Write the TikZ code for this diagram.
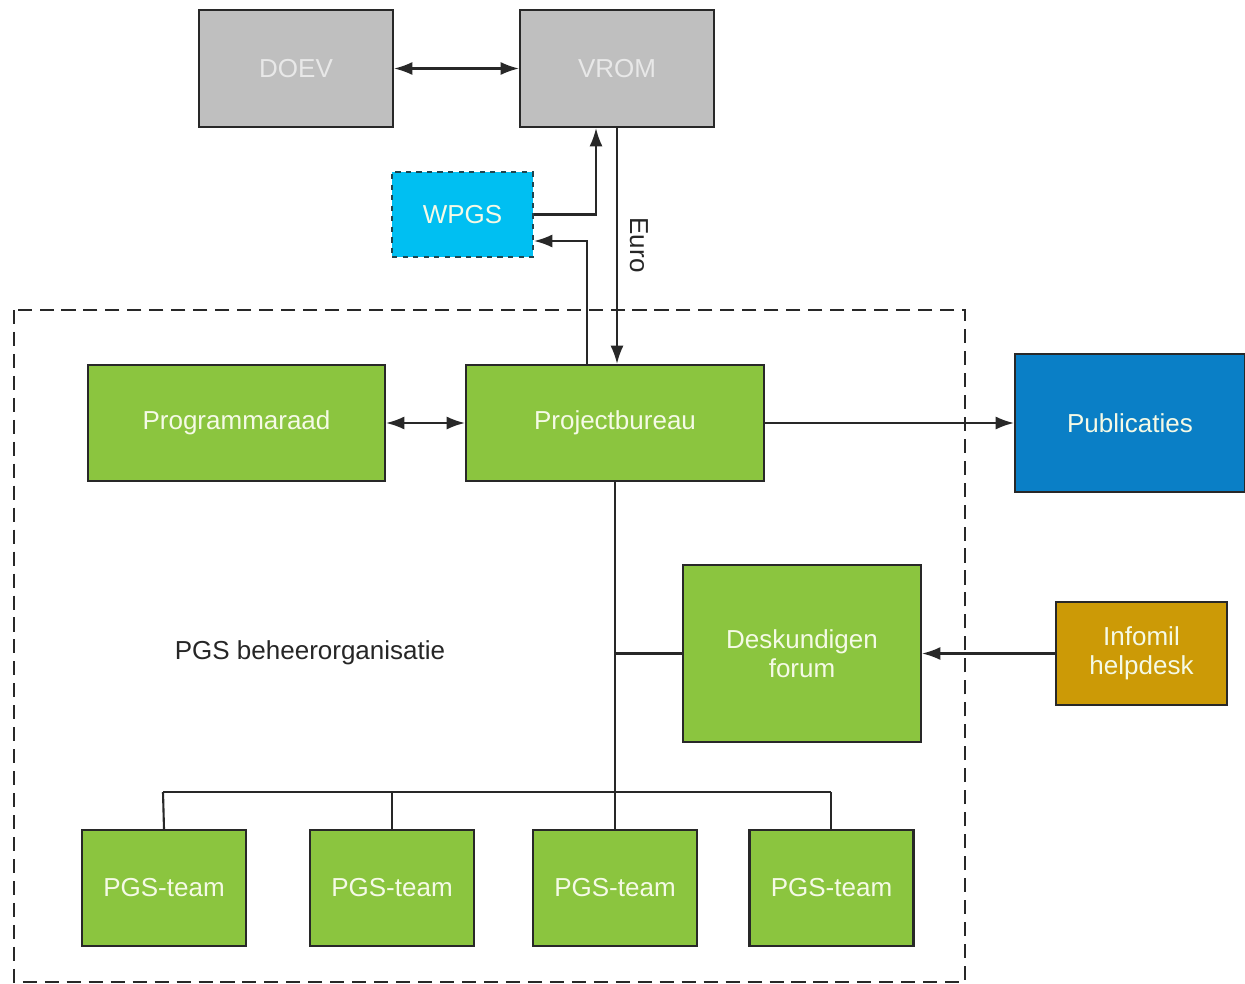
\documentclass[tikz,border=0pt]{standalone}
\usepackage{fontspec}
\setmainfont{Liberation Sans}
\usetikzlibrary{arrows.meta,calc}
\definecolor{boxgray}{RGB}{191,191,191}
\definecolor{boxgreen}{RGB}{139,197,63}
\definecolor{boxblue}{RGB}{10,127,198}
\definecolor{boxcyan}{RGB}{0,191,242}
\definecolor{boxgold}{RGB}{204,154,6}
\definecolor{linecol}{RGB}{40,40,40}
\definecolor{txtgray}{RGB}{232,232,232}
\definecolor{txtlight}{RGB}{245,250,230}
\begin{document}
\begin{tikzpicture}[x=0.02cm,y=-0.02cm,
  box/.style={draw=linecol, line width=1.2pt, inner sep=0pt, align=center,
    font=\fontsize{14.8}{17}\selectfont, text=txtlight},
  graybox/.style={box, fill=boxgray, text=txtgray, minimum width=3.88cm, minimum height=2.34cm},
  greenbox/.style={box, fill=boxgreen},
  teambox/.style={greenbox, minimum width=3.28cm, minimum height=2.32cm},
  conn/.style={draw=linecol, line width=1.2pt},
  arr/.style={conn, -{Latex[length=10.5pt,width=7.5pt]}},
  darr/.style={conn, {Latex[length=10.5pt,width=7.5pt]}-{Latex[length=10.5pt,width=7.5pt]}}
]
\useasboundingbox (0,0) rectangle (1245,984);
\fill[white] (0,0) rectangle (1245,984);

% container
\draw[draw=linecol, line width=1.1pt, dash pattern=on 8pt off 4.5pt] (14,310) rectangle (965,982);

\node[graybox] (doev) at (296,68.5) {DOEV};
\node[graybox] (vrom) at (617,68.5) {VROM};
\node[box, fill=boxcyan, dashed, draw=linecol!80!boxcyan, minimum width=2.82cm, minimum height=1.70cm] (wpgs) at (462.5,214.5) {WPGS};

\node[greenbox, minimum width=5.94cm, minimum height=2.32cm] (prog) at (236.5,423) {Programmaraad};
\node[greenbox, minimum width=5.96cm, minimum height=2.32cm] (pb) at (615,423) {Projectbureau};
\node[box, fill=boxblue, minimum width=4.6cm, minimum height=2.76cm] (pub) at (1130,423) {Publicaties};
\node[greenbox, minimum width=4.76cm, minimum height=3.54cm, font=\fontsize{14.8}{16.5}\selectfont] (df) at (802,653.5) {Deskundigen\\forum};
\node[box, fill=boxgold, minimum width=3.42cm, minimum height=2.06cm, font=\fontsize{14.8}{16.5}\selectfont] (info) at (1141.5,653.5) {Infomil\\helpdesk};

\node[teambox] (t1) at (164,888) {PGS-team};
\node[teambox] (t2) at (392,888) {PGS-team};
\node[teambox] (t3) at (615,888) {PGS-team};
\node[teambox] (t4) at (831.5,888) {PGS-team};

\node[font=\fontsize{14.8}{17}\selectfont, text=black!85] (org) at (310,653) {PGS beheerorganisatie};

% connectors
\draw[darr] (doev.east) -- (vrom.west);
\draw[arr] (wpgs.east) -| ([xshift=-0.42cm]vrom.south);
\draw[arr] ([xshift=-0.56cm]pb.north) |- ([yshift=-0.53cm]wpgs.east);
\draw[arr] (vrom.south) -- (vrom.south |- pb.north);
\node[rotate=-90, font=\fontsize{14.8}{17}\selectfont, text=black!85] (euro) at (639,245) {Euro};
\draw[darr] (prog.east) -- (pb.west);
\draw[arr] (pb.east) -- (pub.west);

\coordinate (busc) at (615,792);
\coordinate (busl) at (163,792);
\coordinate (busr) at (831,792);
\draw[conn] (pb.south) -- (busc);
\draw[conn] (busl) -- (busr);
\draw[conn] (busl) -- (t1.north);
\draw[conn] (t2.north |- busl) -- (t2.north);
\draw[conn] (busc) -- (t3.north);
\draw[conn] (busr) -- (busr |- t4.north);
\draw[conn] (pb.south |- df.west) -- (df.west);
\draw[arr] (info.west) -- (df.east);
\end{tikzpicture}
\end{document}
